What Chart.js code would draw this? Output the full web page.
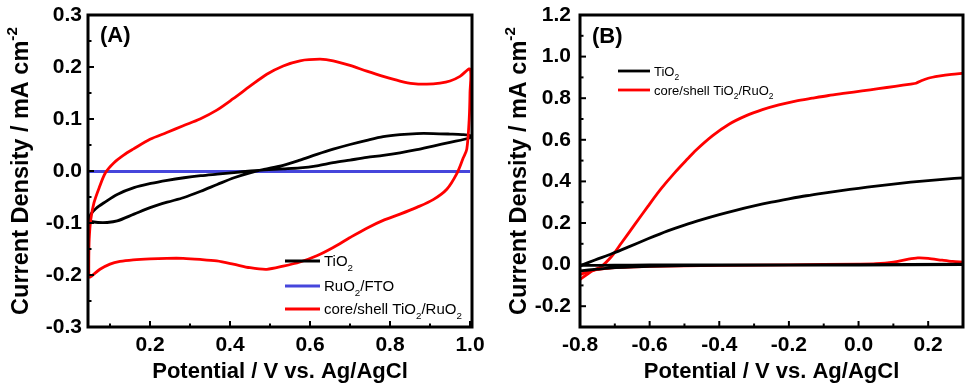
<!DOCTYPE html>
<html>
<head>
<meta charset="utf-8">
<script src="https://cdn.jsdelivr.net/npm/chart.js@4.4.1/dist/chart.umd.min.js"></script>
<style>
    html, body { margin: 0; padding: 0; background: #fff; }
    #wrap { position: relative; width: 969px; height: 391px; }
    #wrap canvas { position: absolute; left: 0; top: 0; }
</style>
</head>
<body>
<div id="wrap">
    <canvas id="chartA" width="969" height="391"></canvas>
    <canvas id="chartB" width="969" height="391"></canvas>
</div>
<script>
// ---- Panel A: cyclic voltammograms ----
const aTicksX = [0.2, 0.4, 0.6, 0.8, 1.0];
const aMinorX = [0.1, 0.3, 0.5, 0.7, 0.9];
const aTicksY = [-0.3, -0.2, -0.1, 0.0, 0.1, 0.2, 0.3];
const aMinorY = [-0.25, -0.15, -0.05, 0.05, 0.15, 0.25];

const tio2CvX = [0.047, 0.052, 0.07, 0.093, 0.118, 0.16, 0.202, 0.243, 0.285, 0.327, 0.368, 0.41, 0.452, 0.485, 0.533, 0.575, 0.617, 0.658, 0.70, 0.742, 0.783, 0.825, 0.867, 0.908, 0.95, 0.98, 1.0,
                 1.0, 0.95, 0.908, 0.867, 0.825, 0.783, 0.742, 0.70, 0.658, 0.617, 0.575, 0.533, 0.485, 0.452, 0.41, 0.368, 0.327, 0.285, 0.243, 0.202, 0.16, 0.118, 0.085, 0.065, 0.052, 0.047];
const tio2CvY = [-0.094, -0.097, -0.099, -0.099, -0.096, -0.083, -0.070, -0.060, -0.051, -0.039, -0.026, -0.013, -0.003, 0.003, 0.011, 0.021, 0.032, 0.042, 0.051, 0.059, 0.066, 0.070, 0.072, 0.072, 0.071, 0.070, 0.068,
                 0.064, 0.055, 0.048, 0.041, 0.035, 0.030, 0.026, 0.021, 0.016, 0.010, 0.006, 0.004, 0.002, 0.000, -0.003, -0.006, -0.009, -0.013, -0.018, -0.024, -0.032, -0.045, -0.061, -0.072, -0.083, -0.094];

const ruo2X = [0.047, 0.3, 0.6, 1.0];
const ruo2Y = [-0.001, -0.001, -0.001, -0.001];

const coreCvX = [0.047, 0.047, 0.048, 0.052, 0.06, 0.073, 0.089, 0.11, 0.135, 0.158, 0.2, 0.242, 0.283, 0.325, 0.367, 0.408, 0.45, 0.492, 0.533, 0.575, 0.625, 0.658, 0.70, 0.742, 0.783, 0.825, 0.858, 0.892, 0.925, 0.95, 0.975, 1.0,
                 1.0, 0.998, 0.992, 0.983, 0.967, 0.942, 0.908, 0.867, 0.825, 0.783, 0.742, 0.70, 0.658, 0.617, 0.575, 0.533, 0.492, 0.45, 0.408, 0.367, 0.325, 0.283, 0.242, 0.2, 0.158, 0.125, 0.10, 0.075, 0.054, 0.047];
const coreCvY = [-0.205, -0.17, -0.131, -0.093, -0.061, -0.032, -0.003, 0.016, 0.031, 0.042, 0.061, 0.074, 0.087, 0.100, 0.117, 0.139, 0.163, 0.186, 0.202, 0.212, 0.215, 0.212, 0.203, 0.192, 0.182, 0.173, 0.168, 0.167, 0.169, 0.173, 0.182, 0.196,
                 0.15, 0.10, 0.042, 0.025, -0.005, -0.035, -0.055, -0.070, -0.083, -0.095, -0.110, -0.128, -0.147, -0.163, -0.175, -0.183, -0.189, -0.186, -0.179, -0.173, -0.170, -0.168, -0.168, -0.169, -0.171, -0.174, -0.179, -0.189, -0.202, -0.205];

// ---- Panel B: linear sweeps ----
const bTicksX = [-0.8, -0.6, -0.4, -0.2, 0.0, 0.2];
const bMinorX = [-0.7, -0.5, -0.3, -0.1, 0.1];
const bTicksY = [-0.2, 0.0, 0.2, 0.4, 0.6, 0.8, 1.0, 1.2];
const bMinorY = [-0.1, 0.1, 0.3, 0.5, 0.7, 0.9, 1.1];

const tio2LightX = [-0.8, -0.757, -0.709, -0.662, -0.605, -0.548, -0.5, -0.45, -0.4, -0.35, -0.3, -0.25, -0.2, -0.15, -0.1, -0.05, 0.0, 0.05, 0.1, 0.15, 0.2, 0.25, 0.3];
const tio2LightY = [-0.006, 0.022, 0.052, 0.084, 0.124, 0.162, 0.19, 0.216, 0.24, 0.262, 0.282, 0.3, 0.316, 0.331, 0.344, 0.356, 0.367, 0.377, 0.387, 0.396, 0.404, 0.411, 0.417];
const tio2DarkX = [-0.8, -0.75, -0.7, -0.6, -0.4, 0.0, 0.3, 0.3, 0.0, -0.4, -0.6, -0.7, -0.8];
const tio2DarkY = [-0.03, -0.022, -0.015, -0.008, -0.004, -0.002, 0.0, 0.002, 0.0, -0.002, -0.002, -0.003, -0.004];

const coreLightX = [-0.8, -0.767, -0.738, -0.709, -0.681, -0.643, -0.605, -0.567, -0.529, -0.49, -0.467, -0.419, -0.372, -0.324, -0.276, -0.229, -0.181, -0.133, -0.086, -0.038, 0.01, 0.057, 0.105, 0.15, 0.165, 0.18, 0.2, 0.23, 0.267, 0.3];
const coreLightY = [-0.072, -0.032, -0.008, 0.04, 0.104, 0.192, 0.28, 0.365, 0.44, 0.51, 0.55, 0.62, 0.675, 0.715, 0.745, 0.768, 0.786, 0.80, 0.813, 0.824, 0.835, 0.846, 0.857, 0.868, 0.872, 0.884, 0.896, 0.906, 0.915, 0.92];
const coreDarkX = [-0.8, -0.77, -0.73, -0.68, -0.6, -0.4, -0.2, 0.0, 0.05, 0.1, 0.14, 0.17, 0.2, 0.24, 0.27, 0.3];
const coreDarkY = [-0.048, -0.03, -0.019, -0.013, -0.008, -0.004, -0.001, 0.002, 0.004, 0.012, 0.025, 0.032, 0.03, 0.021, 0.015, 0.012];

const FONT = "'Liberation Sans', Arial, sans-serif";
const RED = '#ff0000';
const BLUE = '#4646dc';

function pts(xs, ys) {
    return xs.map((x, i) => ({x: x, y: ys[i]}));
}

function curve(xs, ys, color) {
    return {
        data: pts(xs, ys),
        showLine: true,
        borderColor: color,
        backgroundColor: color,
        borderWidth: 2.8,
        pointRadius: 0,
        tension: 0.3,
        fill: false
    };
}

// text with sub (1) / superscript (-1) parts
function richWidth(ctx, parts, size, weight) {
    let w = 0;
    parts.forEach(p => {
        const s = p[1] ? size * 0.65 : size;
        ctx.font = `${weight} ${s}px ${FONT}`;
        w += ctx.measureText(p[0]).width;
    });
    return w;
}

function drawRich(ctx, parts, x, y, size, weight) {
    ctx.textBaseline = 'alphabetic';
    ctx.textAlign = 'left';
    parts.forEach(p => {
        const s = p[1] ? size * 0.65 : size;
        ctx.font = `${weight} ${s}px ${FONT}`;
        const dy = p[1] === 1 ? size * 0.3 : (p[1] === -1 ? -size * 0.45 : 0);
        ctx.fillText(p[0], x, y + dy);
        x += ctx.measureText(p[0]).width;
    });
}

function tick(ctx, x1, y1, x2, y2) {
    ctx.beginPath();
    ctx.moveTo(x1, y1);
    ctx.lineTo(x2, y2);
    ctx.stroke();
}

const deco = {
    id: 'deco',
    afterDatasetsDraw(chart, args, o) {
        const {ctx, chartArea: a, scales: {x, y}} = chart;
        ctx.save();
        ctx.fillStyle = '#000';
        ctx.strokeStyle = '#000';

        // inward ticks, left and bottom only
        ctx.lineWidth = 2;
        o.yMajor.forEach(v => { const p = y.getPixelForValue(v); tick(ctx, a.left, p, a.left + 6, p); });
        o.yMinor.forEach(v => { const p = y.getPixelForValue(v); tick(ctx, a.left, p, a.left + 3.5, p); });
        o.xMajor.forEach(v => { const p = x.getPixelForValue(v); tick(ctx, p, a.bottom, p, a.bottom - 6); });
        o.xMinor.forEach(v => { const p = x.getPixelForValue(v); tick(ctx, p, a.bottom, p, a.bottom - 3.5); });

        ctx.lineWidth = 3;
        ctx.strokeRect(a.left, a.top, a.right - a.left, a.bottom - a.top);

        // panel label
        ctx.font = `bold 22px ${FONT}`;
        ctx.textBaseline = 'alphabetic';
        ctx.fillText(o.label, o.labelX, o.labelY);

        // legend
        o.legend.forEach((item, i) => {
            const ly = o.legendY[i];
            ctx.strokeStyle = item.color;
            ctx.lineWidth = 2.8;
            tick(ctx, o.legendX, ly, o.legendX + o.legendLine, ly);
            drawRich(ctx, item.parts, o.legendX + o.legendLine + 4, ly + o.legendSize * 0.36, o.legendSize, 'normal');
        });

        // y title with superscript
        const tParts = [['Current Density / mA cm', 0], ['-2', -1]];
        const tw = richWidth(ctx, tParts, 23.5, 'bold');
        ctx.translate(o.titleX, (a.top + a.bottom) / 2);
        ctx.rotate(-Math.PI / 2);
        drawRich(ctx, tParts, -tw / 2, 8.5, 23.5, 'bold');
        ctx.restore();
    }
};

function makeOptions(c) {
    return {
        responsive: false,
        animation: false,
        layout: {padding: c.padding},
        plugins: {
            legend: {display: false},
            tooltip: {enabled: false},
            deco: c.deco
        },
        scales: {
            x: {
                type: 'linear',
                position: 'bottom',
                min: c.xMin,
                max: c.xMax,
                grid: {display: false, drawTicks: false},
                border: {display: false},
                ticks: {
                    color: '#000',
                    font: {family: FONT, size: 21, weight: 'bold'},
                    padding: 6,
                    maxRotation: 0,
                    autoSkip: false,
                    callback: v => v.toFixed(1)
                },
                title: {
                    display: true,
                    text: 'Potential / V vs. Ag/AgCl',
                    color: '#000',
                    font: {family: FONT, size: 22, weight: 'bold'},
                    padding: {top: 0, bottom: 6}
                },
                afterBuildTicks: s => { s.ticks = c.xTicks.map(v => ({value: v})); },
                afterFit: s => { s.height = 64; s.paddingLeft = 0; s.paddingRight = 0; }
            },
            y: {
                type: 'linear',
                position: 'left',
                min: c.yMin,
                max: c.yMax,
                grid: {display: false, drawTicks: false},
                border: {display: false},
                ticks: {
                    color: '#000',
                    font: {family: FONT, size: 21, weight: 'bold'},
                    padding: c.yPad,
                    autoSkip: false,
                    callback: v => v.toFixed(1)
                },
                afterBuildTicks: s => { s.ticks = c.yTicks.map(v => ({value: v})); },
                afterFit: s => { s.width = c.yWidth; s.paddingTop = 0; s.paddingBottom = 0; }
            }
        }
    };
}

new Chart(document.getElementById('chartA'), {
    type: 'scatter',
    data: {
        datasets: [
            curve(coreCvX, coreCvY, RED),
            curve(tio2CvX, tio2CvY, '#000'),
            curve(ruo2X, ruo2Y, BLUE)
        ]
    },
    options: makeOptions({
        padding: {left: 0, top: 15, right: 497, bottom: 0},
        xMin: 0.045, xMax: 1.005, yMin: -0.3, yMax: 0.3,
        xTicks: aTicksX, yTicks: aTicksY,
        yWidth: 88, yPad: 6,
        deco: {
            label: '(A)', labelX: 100, labelY: 42,
            xMajor: aTicksX, xMinor: aMinorX, yMajor: aTicksY, yMinor: aMinorY,
            legendX: 285, legendLine: 35, legendSize: 15, legendY: [261, 286, 309],
            legend: [
                {color: '#000', parts: [['TiO', 0], ['2', 1]]},
                {color: BLUE, parts: [['RuO', 0], ['2', 1], ['/FTO', 0]]},
                {color: RED, parts: [['core/shell TiO', 0], ['2', 1], ['/RuO', 0], ['2', 1]]}
            ],
            titleX: 19
        }
    }),
    plugins: [deco]
});

new Chart(document.getElementById('chartB'), {
    type: 'scatter',
    data: {
        datasets: [
            curve(tio2DarkX, tio2DarkY, '#000'),
            curve(tio2LightX, tio2LightY, '#000'),
            curve(coreDarkX, coreDarkY, RED),
            curve(coreLightX, coreLightY, RED)
        ]
    },
    options: makeOptions({
        padding: {left: 480, top: 15, right: 6, bottom: 0},
        xMin: -0.8, xMax: 0.3, yMin: -0.3, yMax: 1.2,
        xTicks: bTicksX, yTicks: bTicksY,
        yWidth: 100, yPad: 9,
        deco: {
            label: '(B)', labelX: 592, labelY: 43,
            xMajor: bTicksX, xMinor: bMinorX, yMajor: bTicksY, yMinor: bMinorY,
            legendX: 618, legendLine: 32, legendSize: 13, legendY: [71, 90],
            legend: [
                {color: '#000', parts: [['TiO', 0], ['2', 1]]},
                {color: RED, parts: [['core/shell TiO', 0], ['2', 1], ['/RuO', 0], ['2', 1]]}
            ],
            titleX: 517
        }
    }),
    plugins: [deco]
});
</script>
</body>
</html>
